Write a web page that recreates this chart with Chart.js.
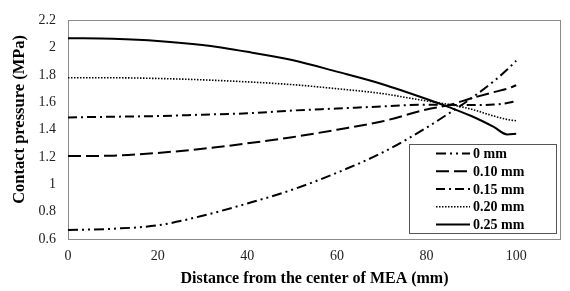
<!DOCTYPE html>
<html>
<head>
<meta charset="utf-8">
<script src="https://cdn.jsdelivr.net/npm/chart.js@4"></script>
<style>
  html, body { margin: 0; padding: 0; background: #fff; }
  #wrap { width: 570px; height: 291px; }
</style>
</head>
<body>
<div id="wrap"><canvas id="pressureChart" width="570" height="291"></canvas></div>
<script>
// distance from MEA center (mm)
const distance = [0, 10, 20, 30, 40, 50, 60, 70, 80, 85, 90, 95, 98, 100];

// contact pressure (MPa) per gap
const p000 = [0.665, 0.675, 0.70, 0.77, 0.86, 0.96, 1.085, 1.23, 1.415, 1.52, 1.63, 1.755, 1.84, 1.905];
const p010 = [1.207, 1.21, 1.23, 1.26, 1.30, 1.345, 1.40, 1.46, 1.548, 1.58, 1.63, 1.675, 1.70, 1.725];
const p015 = [1.49, 1.495, 1.50, 1.51, 1.52, 1.54, 1.555, 1.57, 1.583, 1.582, 1.58, 1.584, 1.595, 1.61];
const p020 = [1.78, 1.78, 1.775, 1.765, 1.75, 1.73, 1.70, 1.665, 1.61, 1.585, 1.55, 1.50, 1.475, 1.465];
const p025 = [2.07, 2.065, 2.05, 2.02, 1.97, 1.91, 1.825, 1.735, 1.625, 1.565, 1.50, 1.42, 1.365, 1.37];

const labels = ['0 mm', '0.10 mm', '0.15 mm', '0.20 mm', '0.25 mm'];
const series = [p000, p010, p015, p020, p025];
const dashes = [[10, 4, 2, 4, 2, 4], [13, 5], [9, 4, 2, 4], [1.5, 1.5], []];
const widths = [2, 2, 2, 1.6, 2];

const serif = "'Liberation Serif', 'Times New Roman', serif";

function pts(arr) {
    return arr.map((v, i) => ({ x: distance[i], y: v }));
}

// grey frame around the plot area
const framePlugin = {
    id: 'frame',
    beforeDatasetsDraw(chart) {
        const a = chart.chartArea;
        const ctx = chart.ctx;
        ctx.save();
        ctx.strokeStyle = '#8a8a8a';
        ctx.lineWidth = 1;
        ctx.strokeRect(Math.round(a.left) + 0.5, Math.round(a.top) + 0.5,
            Math.round(a.right - a.left) - 1, Math.round(a.bottom - a.top));
        ctx.restore();
    }
};

// boxed legend in the lower right corner
const boxLegend = {
    id: 'boxLegend',
    afterDatasetsDraw(chart) {
        const a = chart.chartArea;
        const ctx = chart.ctx;
        const w = 147, h = 89;
        const x0 = a.right - 5 - w, y0 = a.bottom - 6 - h;
        ctx.save();
        ctx.fillStyle = '#fff';
        ctx.fillRect(x0, y0, w, h);
        ctx.strokeStyle = '#555';
        ctx.lineWidth = 1;
        ctx.strokeRect(Math.round(x0) + 0.5, Math.round(y0) + 0.5, w, h);
        ctx.font = "bold 14px " + serif;
        ctx.textBaseline = 'middle';
        ctx.fillStyle = '#000';
        chart.data.datasets.forEach((ds, i) => {
            const y = y0 + 9.5 + i * 17.75;
            ctx.strokeStyle = '#000';
            ctx.lineWidth = ds.borderWidth;
            ctx.setLineDash(ds.borderDash);
            ctx.beginPath();
            ctx.moveTo(x0 + 27, y);
            ctx.lineTo(x0 + 61, y);
            ctx.stroke();
            ctx.setLineDash([]);
            ctx.fillText(ds.label, x0 + 64, y + 1);
        });
        ctx.restore();
    }
};

new Chart(document.getElementById('pressureChart'), {
    type: 'line',
    data: {
        datasets: series.map((s, i) => ({
            label: labels[i],
            data: pts(s),
            borderColor: '#000',
            borderWidth: widths[i],
            borderDash: dashes[i],
            pointRadius: 0,
            fill: false,
            cubicInterpolationMode: 'monotone'
        }))
    },
    options: {
        responsive: false,
        animation: false,
        layout: { padding: { left: 0, right: 2, top: 13, bottom: 0 } },
        plugins: {
            legend: { display: false },
            tooltip: { enabled: false }
        },
        scales: {
            x: {
                type: 'linear',
                min: 0,
                max: 110,
                border: { display: false },
                grid: { display: false, drawTicks: false },
                ticks: {
                    stepSize: 20,
                    padding: 9,
                    color: '#222',
                    font: { family: serif, size: 14 },
                    callback: v => (v <= 100 ? v : '')
                },
                title: {
                    display: true,
                    text: 'Distance from the center of MEA (mm)',
                    color: '#000',
                    font: { family: serif, size: 16, weight: 'bold' },
                    padding: { top: 0, bottom: 3 }
                },
                afterFit(scale) { scale.height = 52; }
            },
            y: {
                min: 0.6,
                max: 2.2,
                border: { display: false },
                grid: { display: false, drawTicks: false },
                ticks: {
                    stepSize: 0.2,
                    padding: 12,
                    color: '#222',
                    font: { family: serif, size: 14 },
                    callback: v => Number(v.toFixed(1)).toString()
                },
                title: {
                    display: true,
                    text: '     Contact pressure (MPa)',
                    color: '#000',
                    font: { family: serif, size: 16.5, weight: 'bold' },
                    padding: { top: 10, bottom: 0 }
                },
                afterFit(scale) { scale.width = 68; }
            }
        }
    },
    plugins: [framePlugin, boxLegend]
});
</script>
</body>
</html>
